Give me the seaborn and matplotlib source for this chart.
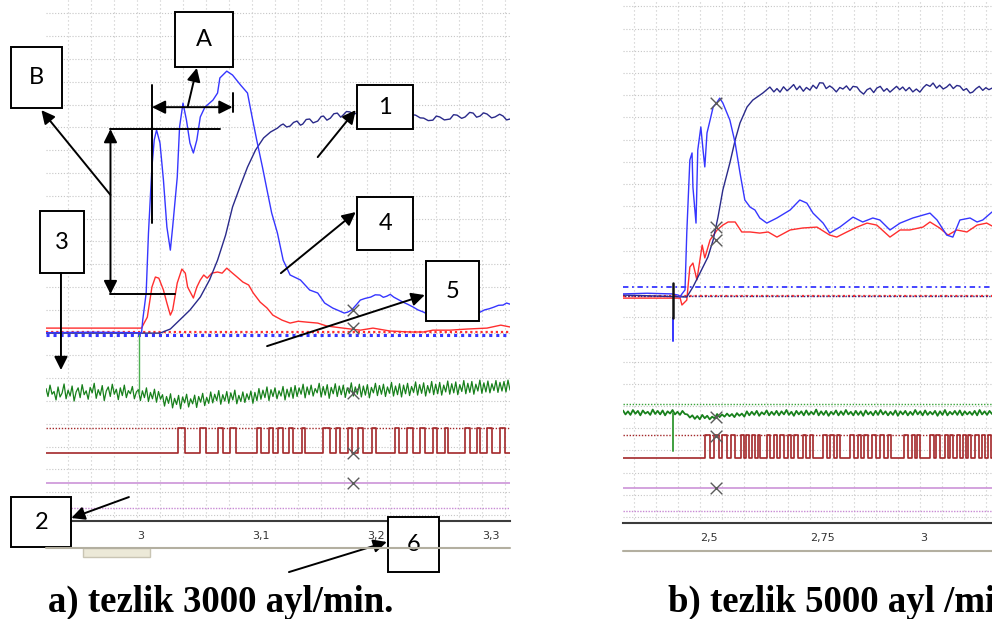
import matplotlib
matplotlib.use("Agg")
import matplotlib.pyplot as plt
from matplotlib.lines import Line2D
from matplotlib.patches import Rectangle
from matplotlib.ticker import FixedLocator, MultipleLocator
import numpy as np
import seaborn as sns

sns.set_style("white")
plt.rcParams["font.family"] = ["DejaVu Sans"]

# ---------------- panel a: 3000 rpm (time in s, level in grid divisions) ----------------
a_cur_t = [2.921, 2.960, 3.004, 3.005, 3.008, 3.010, 3.013, 3.015, 3.017, 3.020, 3.023, 3.026,
           3.029, 3.031, 3.035, 3.037, 3.040, 3.043, 3.046, 3.049, 3.052, 3.055, 3.059, 3.066,
           3.070, 3.072, 3.078, 3.083, 3.090, 3.096, 3.100, 3.104, 3.109, 3.113, 3.117, 3.122,
           3.127, 3.133, 3.142, 3.150, 3.157, 3.163, 3.170,
           3.176, 3.180, 3.183, 3.186, 3.188, 3.191, 3.194, 3.198, 3.203, 3.207, 3.211, 3.214,
           3.217, 3.220, 3.223, 3.227, 3.231, 3.235, 3.240, 3.244, 3.249, 3.252, 3.255, 3.258,
           3.261, 3.265, 3.268, 3.272, 3.276, 3.280, 3.284, 3.287, 3.291, 3.295, 3.298, 3.302,
           3.306, 3.310, 3.314, 3.318, 3.321, 3.324]
a_cur_v = [8.0, 8.02, 8.0, 8.55, 9.74, 12.37, 15.26, 16.45, 16.89, 16.32, 14.69, 12.63,
           11.62, 12.63, 14.82, 17.02, 18.07, 17.32, 16.32, 15.88, 16.45, 17.46, 17.89, 18.20,
           18.51, 19.17, 19.47, 19.30, 18.86, 18.51, 17.46, 16.45, 15.26, 14.25, 13.25, 12.37,
           11.18, 10.53, 10.31, 9.87, 9.74, 9.30, 9.08,
           8.95, 8.86, 8.90, 8.98, 9.08, 9.25, 9.43, 9.50, 9.56, 9.66, 9.65, 9.55,
           9.60, 9.68, 9.56, 9.45, 9.34, 9.25, 9.12, 9.00, 8.90, 8.82, 8.96, 9.05,
           8.99, 8.88, 8.95, 8.99, 9.10, 9.06, 8.95, 9.04, 8.92, 8.85, 8.90, 9.00,
           9.05, 9.12, 9.20, 9.21, 9.30, 9.25]

a_spd_t = [2.921, 3.000, 3.020, 3.029, 3.037, 3.046, 3.055, 3.063, 3.070, 3.077, 3.083, 3.090,
           3.096, 3.103, 3.110, 3.116,
           3.122, 3.125, 3.127, 3.130, 3.133, 3.136, 3.139, 3.142, 3.144, 3.147, 3.150, 3.153,
           3.157, 3.160, 3.162, 3.165, 3.168, 3.171, 3.174, 3.177, 3.179, 3.182, 3.185, 3.188,
           3.191, 3.211, 3.229, 3.242, 3.246, 3.249, 3.253, 3.257, 3.260, 3.263, 3.267, 3.272,
           3.275, 3.278, 3.282, 3.285, 3.289, 3.292, 3.295, 3.298, 3.301, 3.304, 3.308, 3.311,
           3.315, 3.318, 3.321, 3.324]
a_spd_v = [7.98, 7.98, 7.98, 8.16, 8.55, 8.99, 9.56, 10.31, 11.18, 12.28, 13.51, 14.47,
           15.26, 16.01, 16.54, 16.80,
           16.97, 17.10, 17.15, 17.02, 17.06, 17.22, 17.28, 17.10, 17.15, 17.35, 17.37, 17.20,
           17.28, 17.48, 17.50, 17.32, 17.41, 17.60, 17.63, 17.45, 17.54, 17.70, 17.68, 17.58,
           17.63, 17.54, 17.63, 17.54, 17.42, 17.41, 17.30, 17.32, 17.50, 17.46, 17.33, 17.37,
           17.56, 17.54, 17.40, 17.46, 17.66, 17.63, 17.45, 17.50, 17.64, 17.59, 17.42, 17.46,
           17.58, 17.50, 17.33, 17.37]

a_red_t = [2.921, 3.004, 3.006, 3.009, 3.013, 3.016, 3.019, 3.023, 3.026, 3.029, 3.031, 3.035,
           3.039, 3.042, 3.044, 3.049, 3.052, 3.055, 3.058, 3.061, 3.065, 3.070, 3.074, 3.078,
           3.083, 3.087, 3.092, 3.097, 3.101, 3.107, 3.113, 3.118, 3.126, 3.133, 3.140, 3.148,
           3.157, 3.165, 3.179, 3.194, 3.205, 3.220, 3.237, 3.249, 3.257, 3.272, 3.287, 3.304,
           3.316, 3.324]
a_red_v = [8.20, 8.20, 8.40, 8.68, 10.00, 10.44, 10.39, 9.87, 9.30, 8.77, 8.99, 10.18,
           10.79, 10.61, 10.00, 9.52, 10.00, 10.31, 10.53, 10.39, 10.61, 10.66, 10.61, 10.83,
           10.61, 10.44, 10.22, 10.09, 9.74, 9.34, 9.08, 8.77, 8.55, 8.42, 8.50, 8.46,
           8.42, 8.29, 8.20, 8.11, 8.20, 8.07, 8.03, 8.03, 8.11, 8.11, 8.16, 8.20,
           8.33, 8.25]

# sampled green channel, evenly spaced over the window
a_green_span = (2.921, 3.324)
a_green_v = [5.55, 5.20, 5.70, 5.30, 5.42, 5.05, 5.62, 5.18, 5.35, 5.75, 5.10, 5.48, 5.22, 5.66,
             5.00, 5.40, 5.58, 5.15, 5.72, 5.28, 5.45, 5.08, 5.60, 5.36, 5.78, 5.12, 5.50, 5.25,
             5.68, 5.02, 5.44, 5.62, 5.20, 5.74, 5.30, 5.52, 5.06, 5.58, 5.24, 5.70, 5.15, 5.46,
             5.32, 5.64, 5.10, 5.40,
             5.50, 5.02, 5.45, 5.15, 5.58, 4.98, 5.38, 5.10, 5.52, 4.95, 5.42, 5.08,
             5.28, 4.78, 5.20, 4.90, 5.32, 4.70, 5.12, 4.85, 5.25, 4.66, 5.18, 4.92, 5.30, 4.74,
             5.10, 4.88, 5.26, 4.72, 5.20, 4.95, 5.34, 4.80, 5.16, 4.90,
             5.40, 4.92, 5.30, 5.02, 5.46, 4.86, 5.28, 5.00, 5.42, 4.90, 5.36, 5.05, 5.48, 4.88,
             5.25, 4.98, 5.40, 4.94, 5.32, 5.06, 5.44, 4.90, 5.38, 5.02,
             5.55, 5.08, 5.48, 5.15, 5.62, 5.02, 5.50, 5.20, 5.58, 5.10, 5.45, 5.22, 5.64, 5.05,
             5.52, 5.18, 5.60, 5.12,
             5.68, 5.20, 5.58, 5.30, 5.74, 5.14, 5.62, 5.28, 5.70, 5.22, 5.55, 5.36, 5.78, 5.18,
             5.64, 5.26, 5.72, 5.12, 5.60, 5.32, 5.76, 5.20, 5.66, 5.28, 5.70, 5.16, 5.58, 5.34,
             5.80, 5.22, 5.62, 5.30, 5.74, 5.18, 5.66, 5.26, 5.72, 5.14, 5.60, 5.36, 5.78, 5.24,
             5.68, 5.30, 5.74, 5.20, 5.62, 5.34, 5.82, 5.22, 5.66, 5.28, 5.76, 5.18, 5.70, 5.32,
             5.78, 5.24, 5.64, 5.38, 5.84, 5.26, 5.72, 5.34, 5.80, 5.22, 5.68, 5.36, 5.86, 5.28,
             5.74, 5.32, 5.82, 5.26, 5.70, 5.40, 5.88, 5.30, 5.76, 5.36, 5.84, 5.28, 5.72, 5.42,
             5.90, 5.32, 5.78, 5.38, 5.86, 5.30, 5.74, 5.44, 5.92, 5.34, 5.80, 5.40, 5.88, 5.36,
             5.76, 5.46, 5.90, 5.38, 5.82, 5.44, 5.86, 5.40, 5.92, 5.48]
a_green_spike_t = [3.002, 3.002]
a_green_spike_v = [7.90, 5.30]

a_pulse_on = [3.0357, 3.0548, 3.0704, 3.0809, 3.1043, 3.1148, 3.1226, 3.1322, 3.1435, 3.1617,
              3.1730, 3.1835, 3.1922, 3.2043, 3.2243, 3.2348, 3.2461, 3.2574, 3.2678, 3.2852,
              3.2957, 3.3043, 3.3157]
a_pulse_off = [3.0417, 3.0600, 3.0748, 3.0861, 3.1078, 3.1183, 3.1270, 3.1357, 3.1461, 3.1678,
               3.1765, 3.1870, 3.1965, 3.2078, 3.2278, 3.2400, 3.2504, 3.2609, 3.2704, 3.2896,
               3.2983, 3.3087, 3.3200]
a_pulse_levels = (2.72, 3.82)
a_refs = {"red_dot": 8.05, "blue_dot": 7.88, "pulse_dot": 3.82, "violet": 1.40, "violet_dot": 0.31}
a_cursor_t = 3.188
a_cursor_v = [8.99, 8.20, 5.35, 2.72, 1.40]

# ---------------- panel b: 5000 rpm ----------------
b_cur_t = [2.325, 2.380, 2.436, 2.450, 2.455, 2.459, 2.466, 2.470, 2.477, 2.482, 2.484, 2.491,
           2.495, 2.502, 2.507, 2.511, 2.516, 2.523, 2.530, 2.539, 2.545, 2.552, 2.568, 2.580,
           2.591, 2.602, 2.614, 2.625, 2.636, 2.652, 2.675, 2.705, 2.727, 2.743, 2.757, 2.780,
           2.795, 2.818, 2.848, 2.870, 2.893, 2.909, 2.932, 2.955, 2.984, 3.007, 3.023, 3.039,
           3.061, 3.075, 3.091, 3.114, 3.130, 3.143, 3.164]
b_cur_v = [10.05, 10.08, 10.05, 10.0, 9.92, 10.05, 10.23, 12.79, 16.08, 16.40, 14.86, 13.24,
           16.53, 17.57, 16.53, 15.77, 17.30, 17.88, 18.47, 18.69, 18.87, 18.65, 17.88, 16.85,
           15.50, 14.28, 13.96, 13.83, 13.47, 13.24, 13.47, 13.83, 14.28, 14.14, 13.69, 13.24,
           12.79, 13.06, 13.51, 13.29, 13.47, 13.38, 12.93, 13.24, 13.47, 13.60, 13.69, 13.38,
           12.70, 12.61, 13.38, 13.47, 13.29, 13.38, 13.74]

b_spd_t = [2.325, 2.470, 2.484, 2.500, 2.518, 2.530, 2.541, 2.552, 2.568, 2.580, 2.591, 2.607,
           2.620, 2.643,
           2.659, 2.668, 2.675, 2.682, 2.690, 2.698, 2.705, 2.713, 2.720, 2.727, 2.735, 2.742,
           2.750, 2.757, 2.765, 2.772, 2.780, 2.787, 2.795, 2.802, 2.810, 2.818, 2.825, 2.833,
           2.841, 2.848, 2.857, 2.864, 2.872, 2.880, 2.887, 2.895, 2.902, 2.910, 2.918, 2.925,
           2.932, 2.940, 2.947, 2.954, 2.961, 2.968, 2.976, 2.984, 2.992, 3.000, 3.008, 3.015,
           3.023, 3.030, 3.038, 3.045, 3.053, 3.061, 3.068, 3.076, 3.084, 3.091, 3.099, 3.106,
           3.114, 3.120, 3.128, 3.135, 3.143, 3.150, 3.157, 3.164]
b_spd_v = [10.0, 9.91, 10.36, 10.99, 11.71, 12.48, 13.51, 14.73, 15.95, 16.98, 17.75, 18.47,
           18.78, 19.10,
           19.37, 19.15, 19.30, 19.14, 19.38, 19.20, 19.32, 19.48, 19.25, 19.41, 19.18, 19.35,
           19.23, 19.45, 19.30, 19.56, 19.55, 19.30, 19.42, 19.32, 19.15, 19.35, 19.28, 19.42,
           19.22, 19.40, 19.37, 19.18, 19.05, 19.25, 19.32, 19.12, 19.32, 19.40, 19.18, 19.30,
           19.14, 19.28, 19.40, 19.25, 19.37, 19.20, 19.35, 19.15, 19.28, 19.14, 19.35, 19.48,
           19.40, 19.55, 19.32, 19.45, 19.28, 19.37, 19.50, 19.30, 19.44, 19.41, 19.22, 19.30,
           19.10, 19.14, 19.30, 19.40, 19.22, 19.34, 19.25, 19.32]

b_red_t = [2.325, 2.455, 2.459, 2.470, 2.477, 2.484, 2.493, 2.505, 2.511, 2.523, 2.539, 2.552,
           2.564, 2.580, 2.595, 2.614, 2.636, 2.655, 2.675, 2.705, 2.734, 2.766, 2.795, 2.811,
           2.834, 2.857, 2.880, 2.902, 2.932, 2.955, 2.977, 3.007, 3.023, 3.045, 3.064, 3.084,
           3.107, 3.130, 3.152, 3.164]
b_red_v = [9.86, 9.86, 9.55, 9.77, 11.26, 11.44, 10.68, 12.25, 11.67, 12.48, 12.93, 13.15,
           13.29, 13.29, 12.84, 12.84, 12.79, 12.84, 12.61, 12.93, 13.02, 13.06, 12.70, 12.61,
           12.84, 13.06, 13.24, 13.15, 12.61, 12.93, 12.93, 13.06, 13.29, 13.02, 12.70, 12.93,
           12.84, 13.15, 13.24, 13.11]

b_green_span = (2.325, 3.164)
b_green_v = [4.80, 4.62, 4.76, 4.60, 4.82, 4.65, 4.78, 4.58, 4.80, 4.66, 4.74, 4.60, 4.84, 4.64,
             4.78, 4.62, 4.80, 4.58, 4.76, 4.66, 4.82, 4.62, 4.74, 4.60, 4.78, 4.64,
             4.62, 4.48, 4.58, 4.42, 4.55, 4.40, 4.60, 4.45, 4.56, 4.40, 4.52, 4.44,
             4.64, 4.50, 4.62, 4.52, 4.66, 4.54, 4.64, 4.50, 4.68, 4.56, 4.66, 4.52,
             4.76, 4.58, 4.74, 4.60, 4.78, 4.56, 4.72, 4.62, 4.80, 4.58,
             4.74, 4.60, 4.78, 4.58, 4.76, 4.62, 4.82, 4.60, 4.74, 4.56,
             4.78, 4.62, 4.76, 4.58, 4.80, 4.60, 4.74, 4.62, 4.84, 4.58,
             4.76, 4.60, 4.78, 4.56, 4.74, 4.62, 4.80, 4.58, 4.76, 4.60,
             4.82, 4.62, 4.74, 4.58, 4.78, 4.60, 4.76, 4.56, 4.80, 4.62,
             4.74, 4.58, 4.78, 4.60, 4.82, 4.62, 4.76, 4.58, 4.74, 4.60,
             4.80, 4.56, 4.76, 4.62, 4.78, 4.58, 4.74, 4.60, 4.82, 4.62,
             4.76, 4.58, 4.80, 4.60, 4.74, 4.62, 4.78, 4.56, 4.76, 4.60,
             4.82, 4.58, 4.74, 4.62, 4.78, 4.60, 4.80, 4.58, 4.76, 4.62,
             4.74, 4.60, 4.78, 4.58, 4.82, 4.62, 4.76, 4.60, 4.78, 4.64]
b_green_spike_t = [2.439, 2.439]
b_green_spike_v = [4.70, 2.97]
b_trig_t = [2.439, 2.439]
b_trig_v = [10.54, 8.96, 7.93]

b_pulse_on = [2.511, 2.532, 2.550, 2.570, 2.593, 2.605, 2.618, 2.632, 2.652, 2.668, 2.682, 2.700,
              2.714, 2.734, 2.750, 2.780, 2.795, 2.811, 2.841, 2.859, 2.873, 2.891, 2.909, 2.927,
              2.964, 2.982, 2.993, 3.023, 3.036, 3.057, 3.068, 3.084, 3.098, 3.109, 3.125, 3.141,
              3.155]
b_pulse_off = [2.523, 2.543, 2.561, 2.580, 2.600, 2.611, 2.625, 2.636, 2.659, 2.675, 2.691, 2.707,
               2.723, 2.741, 2.757, 2.789, 2.805, 2.818, 2.850, 2.866, 2.882, 2.900, 2.918, 2.934,
               2.973, 2.989, 3.000, 3.032, 3.045, 3.064, 3.075, 3.091, 3.105, 3.116, 3.134, 3.148,
               3.161]
b_pulse_levels = (2.66, 3.69)
b_refs = {"blue_dashdot": 10.36, "red_dot": 9.95, "green_dot": 5.09, "pulse_dot": 3.69,
          "violet": 1.31, "violet_dot": 0.27}
b_cursor_t = 2.536
b_cursor_v = [18.65, 13.06, 12.48, 4.50, 3.65, 1.31]

# tick labels (decimal comma)
a_ticks = [3.0, 3.1, 3.2, 3.3]
a_tick_labels = ["3", "3,1", "3,2", "3,3"]
b_ticks = [2.5, 2.75, 3.0]
b_tick_labels = ["2,5", "2,75", "3"]

captions = ["a) tezlik 3000 ayl/min.", "b) tezlik 5000 ayl /min."]

BLUE = "#3636ff"
NAVY = "#2a2a8a"
RED = "#ff2e2e"
GREEN = "#17801b"
PULSE = "#a3282a"
VIOLET = "#c88ad4"
CROSS = "#5a5a5a"
GRID = "#c6c6c6"


def pulse_train(span, on, off, levels):
    low, high = levels
    t, v = [span[0]], [low]
    for a, b in zip(on, off):
        t += [a, b]
        v += [high, low]
    t.append(span[1])
    v.append(low)
    return t, v


def trace(ax, t, v, color, lw=1.0, **kw):
    sns.lineplot(x=t, y=v, ax=ax, color=color, lw=lw, estimator=None, sort=False,
                 legend=False, **kw)


def style_axis(ax, xlim, ylim, ticks, labels, minor, nrows):
    ax.set_xlim(*xlim)
    ax.set_ylim(*ylim)
    for s in ("top", "right", "left"):
        ax.spines[s].set_visible(False)
    ax.spines["bottom"].set_color("#3c3c3c")
    ax.spines["bottom"].set_linewidth(1.5)
    ax.xaxis.set_major_locator(FixedLocator(ticks))
    ax.xaxis.set_minor_locator(MultipleLocator(minor))
    ax.set_xticklabels(labels)
    ax.tick_params(axis="x", which="major", direction="out", length=7, width=1.1,
                   color="#3c3c3c", pad=0.5, labelsize=8, labelcolor="#333333")
    ax.tick_params(axis="x", which="minor", direction="out", length=4.5, width=1.1,
                   color="#3c3c3c")
    for lbl in ax.get_xticklabels():
        lbl.set_ha("left")
    ax.set_yticks(range(0, nrows + 1))
    ax.tick_params(axis="y", length=0, labelleft=False)
    ax.grid(True, which="both", axis="x", color=GRID, ls=(0, (1, 2.6)), lw=0.8)
    ax.grid(True, which="major", axis="y", color=GRID, ls=(0, (1, 1.6)), lw=0.8)
    ax.set_axisbelow(True)
    ax.set_xlabel("")
    ax.set_ylabel("")


fig = plt.figure(figsize=(9.92, 6.19), dpi=100)
ax_a = fig.add_axes([46 / 992, 98 / 619, 464 / 992, 521 / 619])
ax_b = fig.add_axes([623 / 992, 96 / 619, 369 / 992, 523 / 619])

# ---- panel a traces ----
ax_a.axhline(a_refs["violet_dot"], color=VIOLET, lw=1.0, ls=(0, (1, 1)))
ax_a.axhline(a_refs["violet"], color=VIOLET, lw=1.1)
ax_a.axhline(a_refs["pulse_dot"], color=PULSE, lw=1.0, ls=(0, (1, 1.2)))
ax_a.axhline(a_refs["red_dot"], color=RED, lw=1.6, ls=(0, (1, 1.3)))
ax_a.axhline(a_refs["blue_dot"], color=BLUE, lw=2.2, ls=(0, (1, 1.3)))

pt, pv = pulse_train(a_green_span, a_pulse_on, a_pulse_off, a_pulse_levels)
trace(ax_a, pt, pv, PULSE, lw=1.2, drawstyle="steps-post")
gt = np.linspace(a_green_span[0], a_green_span[1], len(a_green_v))
trace(ax_a, gt, a_green_v, GREEN, lw=0.9)
trace(ax_a, a_green_spike_t, a_green_spike_v, "#4caf50", lw=1.0)
trace(ax_a, a_red_t, a_red_v, RED, lw=1.0)
trace(ax_a, a_spd_t, a_spd_v, NAVY, lw=1.0)
trace(ax_a, a_cur_t, a_cur_v, BLUE, lw=1.0)
sns.scatterplot(x=[a_cursor_t] * len(a_cursor_v), y=a_cursor_v, ax=ax_a, marker="x",
                s=70, color=CROSS, linewidth=1.0, legend=False, zorder=6)

# ---- panel b traces ----
ax_b.axhline(b_refs["violet_dot"], color=VIOLET, lw=1.0, ls=(0, (1, 1)))
ax_b.axhline(b_refs["violet"], color=VIOLET, lw=1.1)
ax_b.axhline(b_refs["pulse_dot"], color=PULSE, lw=1.0, ls=(0, (1, 1.2)))
ax_b.axhline(b_refs["green_dot"], color="#3aa33a", lw=1.0, ls=(0, (1, 1.2)))
ax_b.axhline(b_refs["blue_dashdot"], color=BLUE, lw=1.3, ls=(0, (3, 2, 1, 2)))
ax_b.axhline(b_refs["red_dot"], color=RED, lw=1.6, ls=(0, (1, 1.3)))
ax_b.axhline(b_refs["red_dot"], color=NAVY, lw=1.0, ls=(1.2, (1, 1.3)))

pt, pv = pulse_train(b_green_span, b_pulse_on, b_pulse_off, b_pulse_levels)
trace(ax_b, pt, pv, PULSE, lw=1.2, drawstyle="steps-post")
gt = np.linspace(b_green_span[0], b_green_span[1], len(b_green_v))
trace(ax_b, gt, b_green_v, GREEN, lw=1.3)
trace(ax_b, b_green_spike_t, b_green_spike_v, "#3f9f3f", lw=1.4)
trace(ax_b, b_red_t, b_red_v, RED, lw=1.0)
trace(ax_b, b_spd_t, b_spd_v, NAVY, lw=1.0)
trace(ax_b, b_cur_t, b_cur_v, BLUE, lw=1.0)
trace(ax_b, b_trig_t, b_trig_v[1:], BLUE, lw=1.4)
trace(ax_b, b_trig_t, b_trig_v[:2], "#111111", lw=1.8)
sns.scatterplot(x=[b_cursor_t] * len(b_cursor_v), y=b_cursor_v, ax=ax_b, marker="x",
                s=70, color=CROSS, linewidth=1.0, legend=False, zorder=6)

style_axis(ax_a, (2.921, 3.324), (-0.26, 22.59), a_ticks, a_tick_labels, 0.02, 22)
style_axis(ax_b, (2.325, 3.164), (-0.27, 23.29), b_ticks, b_tick_labels, 0.05, 23)

# ---- callouts on panel a ----
callout_labels = ["A", "B", "1", "4", "5", "3", "2", "6"]
callout_boxes = [(3.033, 19.65, 3.083, 22.06), (2.891, 17.85, 2.935, 20.53),
                 (3.191, 16.93, 3.240, 18.86), (3.191, 11.62, 3.240, 13.95),
                 (3.251, 8.51, 3.297, 11.14), (2.916, 10.61, 2.954, 13.33),
                 (2.891, -1.40, 2.943, 0.79), (3.218, -2.50, 3.262, -0.09)]
for lab, (x0, y0, x1, y1) in zip(callout_labels, callout_boxes):
    ax_a.add_patch(Rectangle((x0, y0), x1 - x0, y1 - y0, fc="white", ec="black", lw=1.4,
                             clip_on=False, zorder=10))
    ax_a.text((x0 + x1) / 2, (y0 + y1) / 2, lab, ha="center", va="center", fontsize=17,
              family=["Lato", "DejaVu Sans"], color="black", zorder=11, clip_on=False)

arrows = [((3.157, 15.70), (3.190, 17.76)), ((3.125, 10.61), (3.190, 13.29)),
          ((3.113, 7.41), (3.250, 9.65)), ((2.934, 10.61), (2.934, 6.36)),
          ((2.993, 0.79), (2.943, -0.13)), ((3.132, -2.50), (3.217, -1.18)),
          ((3.044, 17.89), (3.052, 19.61)), ((2.977, 14.04), (2.917, 17.76))]
for tail, tip in arrows:
    ax_a.annotate("", xy=tip, xytext=tail, xycoords="data", annotation_clip=False,
                  arrowprops=dict(arrowstyle="-|>", color="black", lw=1.4,
                                  mutation_scale=20, shrinkA=0, shrinkB=0), zorder=12)
for a, b in [((3.013, 17.89), (3.083, 17.89)), ((2.977, 16.93), (2.977, 9.69))]:
    ax_a.annotate("", xy=b, xytext=a, xycoords="data", annotation_clip=False,
                  arrowprops=dict(arrowstyle="<|-|>", color="black", lw=1.4,
                                  mutation_scale=20, shrinkA=0, shrinkB=0), zorder=12)
bracket_lines = [([3.013, 3.013], [18.86, 12.81]), ([3.083, 3.083], [18.51, 17.68]),
                 ([2.977, 3.072], [16.93, 16.93]), ([2.977, 3.033], [9.69, 9.69])]
for xs, ys in bracket_lines:
    ax_a.plot(xs, ys, color="black", lw=1.4, zorder=12, clip_on=False)

# ---- scroll bars under the time axes ----
fig.add_artist(Line2D([46 / 992, 510 / 992], [1 - 548 / 619] * 2, transform=fig.transFigure,
                      color="#b3afa0", lw=1.5))
fig.add_artist(Rectangle((83 / 992, 1 - 557 / 619), 67 / 992, 9 / 619,
                         transform=fig.transFigure, fc="#ece9d8", ec="#c9c5b4", lw=1.0))
fig.add_artist(Line2D([623 / 992, 1.0], [1 - 551 / 619] * 2, transform=fig.transFigure,
                      color="#b3afa0", lw=1.5))

# ---- captions ----
for x, cap in zip([48 / 992, 668 / 992], captions):
    fig.text(x, 1 - 612 / 619, cap, ha="left", va="baseline", fontsize=26.5,
             family=["Liberation Serif", "DejaVu Serif"], weight="bold", color="black")

fig.savefig("out.png", dpi=100, facecolor="white")
